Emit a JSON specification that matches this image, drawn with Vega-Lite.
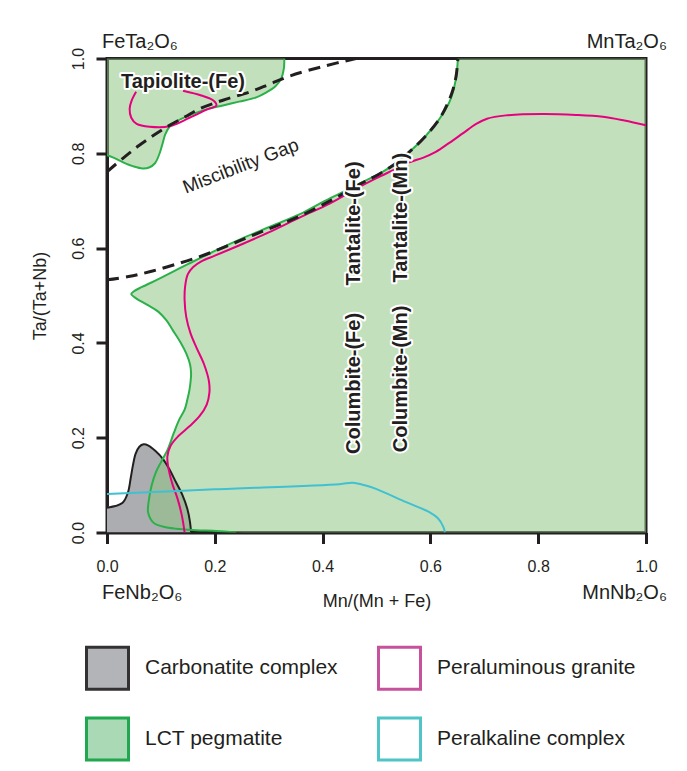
{
  "$schema": "https://vega.github.io/schema/vega-lite/v6.json",
  "autosize": {"type": "none"},
  "width": 539,
  "height": 474,
  "padding": {"left": 107, "top": 58.5, "right": 41, "bottom": 238.5},
  "background": "#ffffff",
  "config": {
    "font": "Liberation Sans",
    "view": {"stroke": "#231f20", "strokeWidth": 3},
    "axis": {
      "domainColor": "#231f20", "domainWidth": 3, "tickColor": "#231f20", "tickWidth": 3, "tickSize": 11,
      "labelFont": "Liberation Sans", "labelFontSize": 16, "labelColor": "#231f20", "grid": false,
      "titleFont": "Liberation Sans", "titleFontSize": 18, "titleFontWeight": "normal", "titleColor": "#231f20"
    },
    "legend": {
      "orient": "none", "legendX": -22, "legendY": 587, "columns": 2, "symbolType": "square",
      "symbolSize": 1764, "symbolStrokeWidth": 3, "labelFont": "Liberation Sans", "labelFontSize": 21,
      "labelColor": "#231f20", "labelOffset": 15, "rowPadding": 16, "columnPadding": 34, "padding": 0,
      "labelLimit": 400
    }
  },
  "resolve": {
    "scale": {"fill": "independent", "stroke": "independent"},
    "legend": {"fill": "independent", "stroke": "independent"}
  },
  "datasets": {
    "shapes": [
      {"unit": "Carbonatite complex", "part": "carb", "i": 0, "x": 0, "y": 0},
      {"unit": "Carbonatite complex", "part": "carb", "i": 1, "x": 0, "y": 0.052},
      {"unit": "Carbonatite complex", "part": "carb", "i": 2, "x": 0.029, "y": 0.063},
      {"unit": "Carbonatite complex", "part": "carb", "i": 3, "x": 0.039, "y": 0.085},
      {"unit": "Carbonatite complex", "part": "carb", "i": 4, "x": 0.044, "y": 0.115},
      {"unit": "Carbonatite complex", "part": "carb", "i": 5, "x": 0.048, "y": 0.141},
      {"unit": "Carbonatite complex", "part": "carb", "i": 6, "x": 0.053, "y": 0.166},
      {"unit": "Carbonatite complex", "part": "carb", "i": 7, "x": 0.06, "y": 0.181},
      {"unit": "Carbonatite complex", "part": "carb", "i": 8, "x": 0.068, "y": 0.186},
      {"unit": "Carbonatite complex", "part": "carb", "i": 9, "x": 0.076, "y": 0.184},
      {"unit": "Carbonatite complex", "part": "carb", "i": 10, "x": 0.09, "y": 0.172},
      {"unit": "Carbonatite complex", "part": "carb", "i": 11, "x": 0.104, "y": 0.155},
      {"unit": "Carbonatite complex", "part": "carb", "i": 12, "x": 0.117, "y": 0.131},
      {"unit": "Carbonatite complex", "part": "carb", "i": 13, "x": 0.128, "y": 0.106},
      {"unit": "Carbonatite complex", "part": "carb", "i": 14, "x": 0.14, "y": 0.079},
      {"unit": "Carbonatite complex", "part": "carb", "i": 15, "x": 0.149, "y": 0.05},
      {"unit": "Carbonatite complex", "part": "carb", "i": 16, "x": 0.154, "y": 0.022},
      {"unit": "Carbonatite complex", "part": "carb", "i": 17, "x": 0.156, "y": 0},

      {"unit": "LCT pegmatite", "part": "main", "i": 0, "x": 0.651, "y": 1.0},
      {"unit": "LCT pegmatite", "part": "main", "i": 1, "x": 0.647, "y": 0.955},
      {"unit": "LCT pegmatite", "part": "main", "i": 2, "x": 0.636, "y": 0.91},
      {"unit": "LCT pegmatite", "part": "main", "i": 3, "x": 0.617, "y": 0.873},
      {"unit": "LCT pegmatite", "part": "main", "i": 4, "x": 0.59, "y": 0.835},
      {"unit": "LCT pegmatite", "part": "main", "i": 5, "x": 0.561, "y": 0.803},
      {"unit": "LCT pegmatite", "part": "main", "i": 6, "x": 0.532, "y": 0.776},
      {"unit": "LCT pegmatite", "part": "main", "i": 7, "x": 0.506, "y": 0.757},
      {"unit": "LCT pegmatite", "part": "main", "i": 8, "x": 0.468, "y": 0.736},
      {"unit": "LCT pegmatite", "part": "main", "i": 9, "x": 0.437, "y": 0.718},
      {"unit": "LCT pegmatite", "part": "main", "i": 10, "x": 0.4, "y": 0.697},
      {"unit": "LCT pegmatite", "part": "main", "i": 11, "x": 0.357, "y": 0.671},
      {"unit": "LCT pegmatite", "part": "main", "i": 12, "x": 0.3, "y": 0.644},
      {"unit": "LCT pegmatite", "part": "main", "i": 13, "x": 0.252, "y": 0.621},
      {"unit": "LCT pegmatite", "part": "main", "i": 14, "x": 0.2, "y": 0.594},
      {"unit": "LCT pegmatite", "part": "main", "i": 15, "x": 0.15, "y": 0.566},
      {"unit": "LCT pegmatite", "part": "main", "i": 16, "x": 0.098, "y": 0.536},
      {"unit": "LCT pegmatite", "part": "main", "i": 17, "x": 0.065, "y": 0.518},
      {"unit": "LCT pegmatite", "part": "main", "i": 18, "x": 0.05, "y": 0.509},
      {"unit": "LCT pegmatite", "part": "main", "i": 19, "x": 0.045, "y": 0.503},
      {"unit": "LCT pegmatite", "part": "main", "i": 20, "x": 0.054, "y": 0.494},
      {"unit": "LCT pegmatite", "part": "main", "i": 21, "x": 0.075, "y": 0.48},
      {"unit": "LCT pegmatite", "part": "main", "i": 22, "x": 0.095, "y": 0.466},
      {"unit": "LCT pegmatite", "part": "main", "i": 23, "x": 0.11, "y": 0.448},
      {"unit": "LCT pegmatite", "part": "main", "i": 24, "x": 0.122, "y": 0.427},
      {"unit": "LCT pegmatite", "part": "main", "i": 25, "x": 0.136, "y": 0.402},
      {"unit": "LCT pegmatite", "part": "main", "i": 26, "x": 0.147, "y": 0.378},
      {"unit": "LCT pegmatite", "part": "main", "i": 27, "x": 0.154, "y": 0.355},
      {"unit": "LCT pegmatite", "part": "main", "i": 28, "x": 0.156, "y": 0.336},
      {"unit": "LCT pegmatite", "part": "main", "i": 29, "x": 0.155, "y": 0.318},
      {"unit": "LCT pegmatite", "part": "main", "i": 30, "x": 0.153, "y": 0.301},
      {"unit": "LCT pegmatite", "part": "main", "i": 31, "x": 0.149, "y": 0.28},
      {"unit": "LCT pegmatite", "part": "main", "i": 32, "x": 0.144, "y": 0.259},
      {"unit": "LCT pegmatite", "part": "main", "i": 33, "x": 0.134, "y": 0.238},
      {"unit": "LCT pegmatite", "part": "main", "i": 34, "x": 0.124, "y": 0.21},
      {"unit": "LCT pegmatite", "part": "main", "i": 35, "x": 0.113, "y": 0.176},
      {"unit": "LCT pegmatite", "part": "main", "i": 36, "x": 0.101, "y": 0.15},
      {"unit": "LCT pegmatite", "part": "main", "i": 37, "x": 0.091, "y": 0.128},
      {"unit": "LCT pegmatite", "part": "main", "i": 38, "x": 0.083, "y": 0.1},
      {"unit": "LCT pegmatite", "part": "main", "i": 39, "x": 0.078, "y": 0.071},
      {"unit": "LCT pegmatite", "part": "main", "i": 40, "x": 0.076, "y": 0.044},
      {"unit": "LCT pegmatite", "part": "main", "i": 41, "x": 0.081, "y": 0.028},
      {"unit": "LCT pegmatite", "part": "main", "i": 42, "x": 0.088, "y": 0.019},
      {"unit": "LCT pegmatite", "part": "main", "i": 43, "x": 0.105, "y": 0.012},
      {"unit": "LCT pegmatite", "part": "main", "i": 44, "x": 0.128, "y": 0.008},
      {"unit": "LCT pegmatite", "part": "main", "i": 45, "x": 0.165, "y": 0.005},
      {"unit": "LCT pegmatite", "part": "main", "i": 46, "x": 0.203, "y": 0.003},
      {"unit": "LCT pegmatite", "part": "main", "i": 47, "x": 0.24, "y": 0},
      {"unit": "LCT pegmatite", "part": "main", "i": 48, "x": 0.6, "y": -0.02},
      {"unit": "LCT pegmatite", "part": "main", "i": 49, "x": 1.02, "y": -0.02},
      {"unit": "LCT pegmatite", "part": "main", "i": 50, "x": 1.02, "y": 1.02},
      {"unit": "LCT pegmatite", "part": "main", "i": 51, "x": 0.66, "y": 1.02},

      {"unit": "LCT pegmatite", "part": "tap", "i": 0, "x": -0.02, "y": 1.03},
      {"unit": "LCT pegmatite", "part": "tap", "i": 1, "x": 0.33, "y": 1.03},
      {"unit": "LCT pegmatite", "part": "tap", "i": 2, "x": 0.329, "y": 1.0},
      {"unit": "LCT pegmatite", "part": "tap", "i": 3, "x": 0.328, "y": 0.978},
      {"unit": "LCT pegmatite", "part": "tap", "i": 4, "x": 0.323, "y": 0.957},
      {"unit": "LCT pegmatite", "part": "tap", "i": 5, "x": 0.312, "y": 0.941},
      {"unit": "LCT pegmatite", "part": "tap", "i": 6, "x": 0.295, "y": 0.928},
      {"unit": "LCT pegmatite", "part": "tap", "i": 7, "x": 0.277, "y": 0.918},
      {"unit": "LCT pegmatite", "part": "tap", "i": 8, "x": 0.245, "y": 0.909},
      {"unit": "LCT pegmatite", "part": "tap", "i": 9, "x": 0.215, "y": 0.901},
      {"unit": "LCT pegmatite", "part": "tap", "i": 10, "x": 0.18, "y": 0.891},
      {"unit": "LCT pegmatite", "part": "tap", "i": 11, "x": 0.153, "y": 0.88},
      {"unit": "LCT pegmatite", "part": "tap", "i": 12, "x": 0.13, "y": 0.868},
      {"unit": "LCT pegmatite", "part": "tap", "i": 13, "x": 0.116, "y": 0.856},
      {"unit": "LCT pegmatite", "part": "tap", "i": 14, "x": 0.108, "y": 0.84},
      {"unit": "LCT pegmatite", "part": "tap", "i": 15, "x": 0.103, "y": 0.82},
      {"unit": "LCT pegmatite", "part": "tap", "i": 16, "x": 0.097, "y": 0.798},
      {"unit": "LCT pegmatite", "part": "tap", "i": 17, "x": 0.089, "y": 0.779},
      {"unit": "LCT pegmatite", "part": "tap", "i": 18, "x": 0.078, "y": 0.77},
      {"unit": "LCT pegmatite", "part": "tap", "i": 19, "x": 0.066, "y": 0.768},
      {"unit": "LCT pegmatite", "part": "tap", "i": 20, "x": 0.05, "y": 0.772},
      {"unit": "LCT pegmatite", "part": "tap", "i": 21, "x": 0.03, "y": 0.781},
      {"unit": "LCT pegmatite", "part": "tap", "i": 22, "x": 0.012, "y": 0.791},
      {"unit": "LCT pegmatite", "part": "tap", "i": 23, "x": -0.01, "y": 0.8}
    ],
    "outlines": [
      {"unit": "Carbonatite complex", "part": "carb", "i": 1, "x": 0, "y": 0.052},
      {"unit": "Carbonatite complex", "part": "carb", "i": 2, "x": 0.029, "y": 0.063},
      {"unit": "Carbonatite complex", "part": "carb", "i": 3, "x": 0.039, "y": 0.085},
      {"unit": "Carbonatite complex", "part": "carb", "i": 4, "x": 0.044, "y": 0.115},
      {"unit": "Carbonatite complex", "part": "carb", "i": 5, "x": 0.048, "y": 0.141},
      {"unit": "Carbonatite complex", "part": "carb", "i": 6, "x": 0.053, "y": 0.166},
      {"unit": "Carbonatite complex", "part": "carb", "i": 7, "x": 0.06, "y": 0.181},
      {"unit": "Carbonatite complex", "part": "carb", "i": 8, "x": 0.068, "y": 0.186},
      {"unit": "Carbonatite complex", "part": "carb", "i": 9, "x": 0.076, "y": 0.184},
      {"unit": "Carbonatite complex", "part": "carb", "i": 10, "x": 0.09, "y": 0.172},
      {"unit": "Carbonatite complex", "part": "carb", "i": 11, "x": 0.104, "y": 0.155},
      {"unit": "Carbonatite complex", "part": "carb", "i": 12, "x": 0.117, "y": 0.131},
      {"unit": "Carbonatite complex", "part": "carb", "i": 13, "x": 0.128, "y": 0.106},
      {"unit": "Carbonatite complex", "part": "carb", "i": 14, "x": 0.14, "y": 0.079},
      {"unit": "Carbonatite complex", "part": "carb", "i": 15, "x": 0.149, "y": 0.05},
      {"unit": "Carbonatite complex", "part": "carb", "i": 16, "x": 0.154, "y": 0.022},
      {"unit": "Carbonatite complex", "part": "carb", "i": 17, "x": 0.156, "y": 0},

      {"unit": "LCT pegmatite", "part": "main", "i": 0, "x": 0.651, "y": 1.0},
      {"unit": "LCT pegmatite", "part": "main", "i": 1, "x": 0.647, "y": 0.955},
      {"unit": "LCT pegmatite", "part": "main", "i": 2, "x": 0.636, "y": 0.91},
      {"unit": "LCT pegmatite", "part": "main", "i": 3, "x": 0.617, "y": 0.873},
      {"unit": "LCT pegmatite", "part": "main", "i": 4, "x": 0.59, "y": 0.835},
      {"unit": "LCT pegmatite", "part": "main", "i": 5, "x": 0.561, "y": 0.803},
      {"unit": "LCT pegmatite", "part": "main", "i": 6, "x": 0.532, "y": 0.776},
      {"unit": "LCT pegmatite", "part": "main", "i": 7, "x": 0.506, "y": 0.757},
      {"unit": "LCT pegmatite", "part": "main", "i": 8, "x": 0.468, "y": 0.736},
      {"unit": "LCT pegmatite", "part": "main", "i": 9, "x": 0.437, "y": 0.718},
      {"unit": "LCT pegmatite", "part": "main", "i": 10, "x": 0.4, "y": 0.697},
      {"unit": "LCT pegmatite", "part": "main", "i": 11, "x": 0.357, "y": 0.671},
      {"unit": "LCT pegmatite", "part": "main", "i": 12, "x": 0.3, "y": 0.644},
      {"unit": "LCT pegmatite", "part": "main", "i": 13, "x": 0.252, "y": 0.621},
      {"unit": "LCT pegmatite", "part": "main", "i": 14, "x": 0.2, "y": 0.594},
      {"unit": "LCT pegmatite", "part": "main", "i": 15, "x": 0.15, "y": 0.566},
      {"unit": "LCT pegmatite", "part": "main", "i": 16, "x": 0.098, "y": 0.536},
      {"unit": "LCT pegmatite", "part": "main", "i": 17, "x": 0.065, "y": 0.518},
      {"unit": "LCT pegmatite", "part": "main", "i": 18, "x": 0.05, "y": 0.509},
      {"unit": "LCT pegmatite", "part": "main", "i": 19, "x": 0.045, "y": 0.503},
      {"unit": "LCT pegmatite", "part": "main", "i": 20, "x": 0.054, "y": 0.494},
      {"unit": "LCT pegmatite", "part": "main", "i": 21, "x": 0.075, "y": 0.48},
      {"unit": "LCT pegmatite", "part": "main", "i": 22, "x": 0.095, "y": 0.466},
      {"unit": "LCT pegmatite", "part": "main", "i": 23, "x": 0.11, "y": 0.448},
      {"unit": "LCT pegmatite", "part": "main", "i": 24, "x": 0.122, "y": 0.427},
      {"unit": "LCT pegmatite", "part": "main", "i": 25, "x": 0.136, "y": 0.402},
      {"unit": "LCT pegmatite", "part": "main", "i": 26, "x": 0.147, "y": 0.378},
      {"unit": "LCT pegmatite", "part": "main", "i": 27, "x": 0.154, "y": 0.355},
      {"unit": "LCT pegmatite", "part": "main", "i": 28, "x": 0.156, "y": 0.336},
      {"unit": "LCT pegmatite", "part": "main", "i": 29, "x": 0.155, "y": 0.318},
      {"unit": "LCT pegmatite", "part": "main", "i": 30, "x": 0.153, "y": 0.301},
      {"unit": "LCT pegmatite", "part": "main", "i": 31, "x": 0.149, "y": 0.28},
      {"unit": "LCT pegmatite", "part": "main", "i": 32, "x": 0.144, "y": 0.259},
      {"unit": "LCT pegmatite", "part": "main", "i": 33, "x": 0.134, "y": 0.238},
      {"unit": "LCT pegmatite", "part": "main", "i": 34, "x": 0.124, "y": 0.21},
      {"unit": "LCT pegmatite", "part": "main", "i": 35, "x": 0.113, "y": 0.176},
      {"unit": "LCT pegmatite", "part": "main", "i": 36, "x": 0.101, "y": 0.15},
      {"unit": "LCT pegmatite", "part": "main", "i": 37, "x": 0.091, "y": 0.128},
      {"unit": "LCT pegmatite", "part": "main", "i": 38, "x": 0.083, "y": 0.1},
      {"unit": "LCT pegmatite", "part": "main", "i": 39, "x": 0.078, "y": 0.071},
      {"unit": "LCT pegmatite", "part": "main", "i": 40, "x": 0.076, "y": 0.044},
      {"unit": "LCT pegmatite", "part": "main", "i": 41, "x": 0.081, "y": 0.028},
      {"unit": "LCT pegmatite", "part": "main", "i": 42, "x": 0.088, "y": 0.019},
      {"unit": "LCT pegmatite", "part": "main", "i": 43, "x": 0.105, "y": 0.012},
      {"unit": "LCT pegmatite", "part": "main", "i": 44, "x": 0.128, "y": 0.008},
      {"unit": "LCT pegmatite", "part": "main", "i": 45, "x": 0.165, "y": 0.005},
      {"unit": "LCT pegmatite", "part": "main", "i": 46, "x": 0.203, "y": 0.003},
      {"unit": "LCT pegmatite", "part": "main", "i": 47, "x": 0.24, "y": 0},

      {"unit": "LCT pegmatite", "part": "tap", "i": 2, "x": 0.329, "y": 1.0},
      {"unit": "LCT pegmatite", "part": "tap", "i": 3, "x": 0.328, "y": 0.978},
      {"unit": "LCT pegmatite", "part": "tap", "i": 4, "x": 0.323, "y": 0.957},
      {"unit": "LCT pegmatite", "part": "tap", "i": 5, "x": 0.312, "y": 0.941},
      {"unit": "LCT pegmatite", "part": "tap", "i": 6, "x": 0.295, "y": 0.928},
      {"unit": "LCT pegmatite", "part": "tap", "i": 7, "x": 0.277, "y": 0.918},
      {"unit": "LCT pegmatite", "part": "tap", "i": 8, "x": 0.245, "y": 0.909},
      {"unit": "LCT pegmatite", "part": "tap", "i": 9, "x": 0.215, "y": 0.901},
      {"unit": "LCT pegmatite", "part": "tap", "i": 10, "x": 0.18, "y": 0.891},
      {"unit": "LCT pegmatite", "part": "tap", "i": 11, "x": 0.153, "y": 0.88},
      {"unit": "LCT pegmatite", "part": "tap", "i": 12, "x": 0.13, "y": 0.868},
      {"unit": "LCT pegmatite", "part": "tap", "i": 13, "x": 0.116, "y": 0.856},
      {"unit": "LCT pegmatite", "part": "tap", "i": 14, "x": 0.108, "y": 0.84},
      {"unit": "LCT pegmatite", "part": "tap", "i": 15, "x": 0.103, "y": 0.82},
      {"unit": "LCT pegmatite", "part": "tap", "i": 16, "x": 0.097, "y": 0.798},
      {"unit": "LCT pegmatite", "part": "tap", "i": 17, "x": 0.089, "y": 0.779},
      {"unit": "LCT pegmatite", "part": "tap", "i": 18, "x": 0.078, "y": 0.77},
      {"unit": "LCT pegmatite", "part": "tap", "i": 19, "x": 0.066, "y": 0.768},
      {"unit": "LCT pegmatite", "part": "tap", "i": 20, "x": 0.05, "y": 0.772},
      {"unit": "LCT pegmatite", "part": "tap", "i": 21, "x": 0.03, "y": 0.781},
      {"unit": "LCT pegmatite", "part": "tap", "i": 22, "x": 0.012, "y": 0.791},
      {"unit": "LCT pegmatite", "part": "tap", "i": 23, "x": -0.01, "y": 0.8}
    ],
    "traces": [
      {"unit": "Peraluminous granite", "part": "pg1", "i": 0, "x": 0.144, "y": 0},
      {"unit": "Peraluminous granite", "part": "pg1", "i": 1, "x": 0.139, "y": 0.035},
      {"unit": "Peraluminous granite", "part": "pg1", "i": 2, "x": 0.131, "y": 0.071},
      {"unit": "Peraluminous granite", "part": "pg1", "i": 3, "x": 0.122, "y": 0.1},
      {"unit": "Peraluminous granite", "part": "pg1", "i": 4, "x": 0.115, "y": 0.13},
      {"unit": "Peraluminous granite", "part": "pg1", "i": 5, "x": 0.112, "y": 0.16},
      {"unit": "Peraluminous granite", "part": "pg1", "i": 6, "x": 0.118, "y": 0.183},
      {"unit": "Peraluminous granite", "part": "pg1", "i": 7, "x": 0.132, "y": 0.203},
      {"unit": "Peraluminous granite", "part": "pg1", "i": 8, "x": 0.153, "y": 0.224},
      {"unit": "Peraluminous granite", "part": "pg1", "i": 9, "x": 0.172, "y": 0.246},
      {"unit": "Peraluminous granite", "part": "pg1", "i": 10, "x": 0.185, "y": 0.27},
      {"unit": "Peraluminous granite", "part": "pg1", "i": 11, "x": 0.19, "y": 0.295},
      {"unit": "Peraluminous granite", "part": "pg1", "i": 12, "x": 0.189, "y": 0.32},
      {"unit": "Peraluminous granite", "part": "pg1", "i": 13, "x": 0.18, "y": 0.355},
      {"unit": "Peraluminous granite", "part": "pg1", "i": 14, "x": 0.166, "y": 0.39},
      {"unit": "Peraluminous granite", "part": "pg1", "i": 15, "x": 0.155, "y": 0.42},
      {"unit": "Peraluminous granite", "part": "pg1", "i": 16, "x": 0.147, "y": 0.455},
      {"unit": "Peraluminous granite", "part": "pg1", "i": 17, "x": 0.144, "y": 0.49},
      {"unit": "Peraluminous granite", "part": "pg1", "i": 18, "x": 0.145, "y": 0.52},
      {"unit": "Peraluminous granite", "part": "pg1", "i": 19, "x": 0.15, "y": 0.545},
      {"unit": "Peraluminous granite", "part": "pg1", "i": 20, "x": 0.16, "y": 0.56},
      {"unit": "Peraluminous granite", "part": "pg1", "i": 21, "x": 0.175, "y": 0.572},
      {"unit": "Peraluminous granite", "part": "pg1", "i": 22, "x": 0.2, "y": 0.584},
      {"unit": "Peraluminous granite", "part": "pg1", "i": 23, "x": 0.246, "y": 0.606},
      {"unit": "Peraluminous granite", "part": "pg1", "i": 24, "x": 0.3, "y": 0.633},
      {"unit": "Peraluminous granite", "part": "pg1", "i": 25, "x": 0.36, "y": 0.666},
      {"unit": "Peraluminous granite", "part": "pg1", "i": 26, "x": 0.413, "y": 0.694},
      {"unit": "Peraluminous granite", "part": "pg1", "i": 27, "x": 0.46, "y": 0.724},
      {"unit": "Peraluminous granite", "part": "pg1", "i": 28, "x": 0.499, "y": 0.747},
      {"unit": "Peraluminous granite", "part": "pg1", "i": 29, "x": 0.53, "y": 0.764},
      {"unit": "Peraluminous granite", "part": "pg1", "i": 30, "x": 0.561, "y": 0.781},
      {"unit": "Peraluminous granite", "part": "pg1", "i": 31, "x": 0.587, "y": 0.791},
      {"unit": "Peraluminous granite", "part": "pg1", "i": 32, "x": 0.61, "y": 0.803},
      {"unit": "Peraluminous granite", "part": "pg1", "i": 33, "x": 0.635, "y": 0.822},
      {"unit": "Peraluminous granite", "part": "pg1", "i": 34, "x": 0.66, "y": 0.842},
      {"unit": "Peraluminous granite", "part": "pg1", "i": 35, "x": 0.685, "y": 0.862},
      {"unit": "Peraluminous granite", "part": "pg1", "i": 36, "x": 0.705, "y": 0.873},
      {"unit": "Peraluminous granite", "part": "pg1", "i": 37, "x": 0.74, "y": 0.88},
      {"unit": "Peraluminous granite", "part": "pg1", "i": 38, "x": 0.808, "y": 0.883},
      {"unit": "Peraluminous granite", "part": "pg1", "i": 39, "x": 0.87, "y": 0.881},
      {"unit": "Peraluminous granite", "part": "pg1", "i": 40, "x": 0.92, "y": 0.877},
      {"unit": "Peraluminous granite", "part": "pg1", "i": 41, "x": 0.96, "y": 0.869},
      {"unit": "Peraluminous granite", "part": "pg1", "i": 42, "x": 1.0, "y": 0.859},

      {"unit": "Peraluminous granite", "part": "pg2", "i": 0, "x": 0.054, "y": 0.93},
      {"unit": "Peraluminous granite", "part": "pg2", "i": 1, "x": 0.046, "y": 0.912},
      {"unit": "Peraluminous granite", "part": "pg2", "i": 2, "x": 0.042, "y": 0.894},
      {"unit": "Peraluminous granite", "part": "pg2", "i": 3, "x": 0.045, "y": 0.875},
      {"unit": "Peraluminous granite", "part": "pg2", "i": 4, "x": 0.055, "y": 0.862},
      {"unit": "Peraluminous granite", "part": "pg2", "i": 5, "x": 0.079, "y": 0.856},
      {"unit": "Peraluminous granite", "part": "pg2", "i": 6, "x": 0.116, "y": 0.857},
      {"unit": "Peraluminous granite", "part": "pg2", "i": 7, "x": 0.153, "y": 0.875},
      {"unit": "Peraluminous granite", "part": "pg2", "i": 8, "x": 0.185, "y": 0.892},
      {"unit": "Peraluminous granite", "part": "pg2", "i": 9, "x": 0.203, "y": 0.901},
      {"unit": "Peraluminous granite", "part": "pg2", "i": 10, "x": 0.198, "y": 0.911},
      {"unit": "Peraluminous granite", "part": "pg2", "i": 11, "x": 0.175, "y": 0.922},
      {"unit": "Peraluminous granite", "part": "pg2", "i": 12, "x": 0.141, "y": 0.932},

      {"unit": "Peralkaline complex", "part": "pk", "i": 0, "x": 0, "y": 0.081},
      {"unit": "Peralkaline complex", "part": "pk", "i": 1, "x": 0.2, "y": 0.091},
      {"unit": "Peralkaline complex", "part": "pk", "i": 2, "x": 0.431, "y": 0.102},
      {"unit": "Peralkaline complex", "part": "pk", "i": 3, "x": 0.456, "y": 0.105},
      {"unit": "Peralkaline complex", "part": "pk", "i": 4, "x": 0.48, "y": 0.099},
      {"unit": "Peralkaline complex", "part": "pk", "i": 5, "x": 0.499, "y": 0.092},
      {"unit": "Peralkaline complex", "part": "pk", "i": 6, "x": 0.555, "y": 0.064},
      {"unit": "Peralkaline complex", "part": "pk", "i": 7, "x": 0.598, "y": 0.043},
      {"unit": "Peralkaline complex", "part": "pk", "i": 8, "x": 0.614, "y": 0.03},
      {"unit": "Peralkaline complex", "part": "pk", "i": 9, "x": 0.624, "y": 0.012},
      {"unit": "Peralkaline complex", "part": "pk", "i": 10, "x": 0.627, "y": 0}
    ],
    "gap": [
      {"part": "lower", "i": 0, "x": 0, "y": 0.533},
      {"part": "lower", "i": 1, "x": 0.04, "y": 0.54},
      {"part": "lower", "i": 2, "x": 0.079, "y": 0.55},
      {"part": "lower", "i": 3, "x": 0.125, "y": 0.565},
      {"part": "lower", "i": 4, "x": 0.172, "y": 0.582},
      {"part": "lower", "i": 5, "x": 0.22, "y": 0.603},
      {"part": "lower", "i": 6, "x": 0.264, "y": 0.624},
      {"part": "lower", "i": 7, "x": 0.31, "y": 0.645},
      {"part": "lower", "i": 8, "x": 0.357, "y": 0.667},
      {"part": "lower", "i": 9, "x": 0.413, "y": 0.699},
      {"part": "lower", "i": 10, "x": 0.468, "y": 0.734},
      {"part": "lower", "i": 11, "x": 0.506, "y": 0.757},
      {"part": "lower", "i": 12, "x": 0.535, "y": 0.778},
      {"part": "lower", "i": 13, "x": 0.561, "y": 0.803},
      {"part": "lower", "i": 14, "x": 0.59, "y": 0.835},
      {"part": "lower", "i": 15, "x": 0.617, "y": 0.873},
      {"part": "lower", "i": 16, "x": 0.632, "y": 0.905},
      {"part": "lower", "i": 17, "x": 0.642, "y": 0.935},
      {"part": "lower", "i": 18, "x": 0.648, "y": 0.965},
      {"part": "lower", "i": 19, "x": 0.651, "y": 1.0},
      {"part": "upper", "i": 0, "x": 0, "y": 0.761},
      {"part": "upper", "i": 1, "x": 0.03, "y": 0.79},
      {"part": "upper", "i": 2, "x": 0.06, "y": 0.817},
      {"part": "upper", "i": 3, "x": 0.088, "y": 0.839},
      {"part": "upper", "i": 4, "x": 0.116, "y": 0.859},
      {"part": "upper", "i": 5, "x": 0.145, "y": 0.877},
      {"part": "upper", "i": 6, "x": 0.172, "y": 0.894},
      {"part": "upper", "i": 7, "x": 0.215, "y": 0.912},
      {"part": "upper", "i": 8, "x": 0.264, "y": 0.929},
      {"part": "upper", "i": 9, "x": 0.3, "y": 0.945},
      {"part": "upper", "i": 10, "x": 0.339, "y": 0.963},
      {"part": "upper", "i": 11, "x": 0.4, "y": 0.983},
      {"part": "upper", "i": 12, "x": 0.462, "y": 1.0}
    ],
    "vlabels": [
      {"label": "Tantalite-(Fe)", "x": 0.459, "y": 0.652},
      {"label": "Tantalite-(Mn)", "x": 0.546, "y": 0.664},
      {"label": "Columbite-(Fe)", "x": 0.459, "y": 0.3145},
      {"label": "Columbite-(Mn)", "x": 0.546, "y": 0.324}
    ],
    "hlabels": [
      {"label": "Tapiolite-(Fe)", "x": 0.141, "y": 0.951}
    ],
    "gaplabel": [
      {"label": "Miscibility Gap", "x": 0.248, "y": 0.773}
    ],
    "leftends": [
      {"label": "FeTa₂O₆", "x": 0, "y": 1.0217},
      {"label": "FeNb₂O₆", "x": 0, "y": -0.14}
    ],
    "rightends": [
      {"label": "MnTa₂O₆", "x": 1, "y": 1.0217},
      {"label": "MnNb₂O₆", "x": 1, "y": -0.14}
    ],
    "one": [{}]
  },
  "encoding": {
    "x": {
      "field": "x", "type": "quantitative",
      "scale": {"domain": [0, 1], "nice": false, "zero": false},
      "axis": {
        "values": [0, 0.2, 0.4, 0.6, 0.8, 1.0], "format": ".1f", "labelPadding": 15, "labelFlush": false,
        "title": "Mn/(Mn + Fe)", "titleY": 69, "titleBaseline": "middle"
      }
    },
    "y": {
      "field": "y", "type": "quantitative",
      "scale": {"domain": [0, 1], "nice": false, "zero": false},
      "axis": {
        "values": [0, 0.2, 0.4, 0.6, 0.8, 1.0], "format": ".1f", "labelAngle": 270, "labelAlign": "center",
        "labelBaseline": "middle", "labelPadding": 18, "labelFlush": false,
        "title": "Ta/(Ta+Nb)", "titleX": -67, "titleY": 237, "titleAngle": 270, "titleBaseline": "middle", "titleAlign": "center"
      }
    }
  },
  "layer": [
    {
      "data": {"name": "shapes"},
      "transform": [{"filter": "datum.part === 'carb'"}],
      "mark": {"type": "line", "interpolate": "catmull-rom", "strokeWidth": 0, "clip": true},
      "encoding": {
        "order": {"field": "i", "type": "quantitative"},
        "detail": {"field": "part"},
        "fill": {"field": "unit", "type": "nominal", "legend": null,
          "scale": {"domain": ["Carbonatite complex", "LCT pegmatite", "Peraluminous granite", "Peralkaline complex"], "range": ["#acadb1", "#8dc482", "#ffffff", "#ffffff"]}}
      }
    },
    {
      "data": {"name": "shapes"},
      "transform": [{"filter": "datum.part !== 'carb'"}],
      "mark": {"type": "line", "interpolate": "catmull-rom", "strokeWidth": 0, "fillOpacity": 0.53, "clip": true},
      "encoding": {
        "order": {"field": "i", "type": "quantitative"},
        "detail": {"field": "part"},
        "fill": {"field": "unit", "type": "nominal", "legend": null,
          "scale": {"domain": ["Carbonatite complex", "LCT pegmatite", "Peraluminous granite", "Peralkaline complex"], "range": ["#acadb1", "#8dc482", "#ffffff", "#ffffff"]}}
      }
    },
    {
      "data": {"name": "one"},
      "mark": {"type": "rule", "color": "#231f20", "strokeWidth": 1.5},
      "encoding": {"x": {"datum": 0.5}, "y": {"datum": 0}, "y2": {"datum": 1}}
    },
    {
      "data": {"name": "one"},
      "mark": {"type": "rule", "color": "#231f20", "strokeWidth": 1.5},
      "encoding": {"y": {"datum": 0.5}, "x": {"datum": 0}, "x2": {"datum": 1}}
    },
    {
      "data": {"name": "outlines"},
      "mark": {"type": "line", "interpolate": "catmull-rom", "strokeWidth": 2, "clip": true},
      "encoding": {
        "order": {"field": "i", "type": "quantitative"},
        "detail": {"field": "part"},
        "stroke": {"field": "unit", "type": "nominal", "legend": null,
          "scale": {"domain": ["Carbonatite complex", "LCT pegmatite", "Peraluminous granite", "Peralkaline complex"], "range": ["#231f20", "#2bb04a", "#e6007e", "#40c0d0"]}}
      }
    },
    {
      "data": {"name": "traces"},
      "mark": {"type": "line", "interpolate": "catmull-rom", "strokeWidth": 2, "clip": true},
      "encoding": {
        "order": {"field": "i", "type": "quantitative"},
        "detail": {"field": "part"},
        "stroke": {"field": "unit", "type": "nominal", "legend": null,
          "scale": {"domain": ["Carbonatite complex", "LCT pegmatite", "Peraluminous granite", "Peralkaline complex"], "range": ["#231f20", "#2bb04a", "#e6007e", "#40c0d0"]}}
      }
    },
    {
      "data": {"name": "gap"},
      "mark": {"type": "line", "interpolate": "catmull-rom", "strokeWidth": 3, "strokeDash": [12, 7], "color": "#231f20", "clip": true},
      "encoding": {
        "order": {"field": "i", "type": "quantitative"},
        "detail": {"field": "part"}
      }
    },
    {
      "data": {"name": "vlabels"},
      "mark": {"type": "text", "angle": 270, "align": "center", "baseline": "middle", "fontSize": 20, "fontWeight": "bold", "stroke": "#ffffff", "strokeWidth": 4, "strokeJoin": "round", "fill": "#ffffff"},
      "encoding": {"text": {"field": "label"}}
    },
    {
      "data": {"name": "vlabels"},
      "mark": {"type": "text", "angle": 270, "align": "center", "baseline": "middle", "fontSize": 20, "fontWeight": "bold", "fill": "#231f20"},
      "encoding": {"text": {"field": "label"}}
    },
    {
      "data": {"name": "hlabels"},
      "mark": {"type": "text", "align": "center", "baseline": "middle", "fontSize": 20, "fontWeight": "bold", "stroke": "#ffffff", "strokeWidth": 4, "strokeJoin": "round", "fill": "#ffffff"},
      "encoding": {"text": {"field": "label"}}
    },
    {
      "data": {"name": "hlabels"},
      "mark": {"type": "text", "align": "center", "baseline": "middle", "fontSize": 20, "fontWeight": "bold", "fill": "#231f20"},
      "encoding": {"text": {"field": "label"}}
    },
    {
      "data": {"name": "gaplabel"},
      "mark": {"type": "text", "angle": 339, "align": "center", "baseline": "middle", "fontSize": 19, "fill": "#231f20"},
      "encoding": {"text": {"field": "label"}}
    },
    {
      "data": {"name": "leftends"},
      "mark": {"type": "text", "align": "left", "baseline": "alphabetic", "dx": -5, "fontSize": 20, "fill": "#231f20"},
      "encoding": {"text": {"field": "label"}}
    },
    {
      "data": {"name": "rightends"},
      "mark": {"type": "text", "align": "right", "baseline": "alphabetic", "dx": 21, "fontSize": 20, "fill": "#231f20"},
      "encoding": {"text": {"field": "label"}}
    },
    {
      "data": {"name": "one"},
      "mark": {"type": "rule", "color": "#231f20", "strokeWidth": 3},
      "encoding": {"x": {"datum": -0.1854}, "x2": {"datum": 1.3}, "y": {"datum": 1.1033}}
    },
    {
      "data": {"name": "one"},
      "mark": {"type": "rule", "color": "#231f20", "strokeWidth": 3},
      "encoding": {"x": {"datum": -0.1854}, "y": {"datum": -0.7}, "y2": {"datum": 1.1065}}
    },
    {
      "data": {"name": "one"},
      "mark": {"type": "rule", "color": "#231f20", "strokeWidth": 3},
      "encoding": {"x": {"datum": -0.1854}, "x2": {"datum": 1.3}, "y": {"datum": -0.1946}}
    },
    {
      "data": {"name": "shapes"},
      "transform": [{"filter": "false"}],
      "mark": {"type": "square", "filled": true, "opacity": 1},
      "encoding": {
        "fill": {"field": "unit", "type": "nominal", "legend": {"title": null},
          "scale": {"domain": ["Carbonatite complex", "LCT pegmatite", "Peraluminous granite", "Peralkaline complex"], "range": ["#b3b4b8", "#aad9b5", "#ffffff", "#ffffff"]}},
        "stroke": {"field": "unit", "type": "nominal", "legend": {"title": null},
          "scale": {"domain": ["Carbonatite complex", "LCT pegmatite", "Peraluminous granite", "Peralkaline complex"], "range": ["#333132", "#1fa84f", "#c8519d", "#4fc5c8"]}}
      }
    }
  ]
}
